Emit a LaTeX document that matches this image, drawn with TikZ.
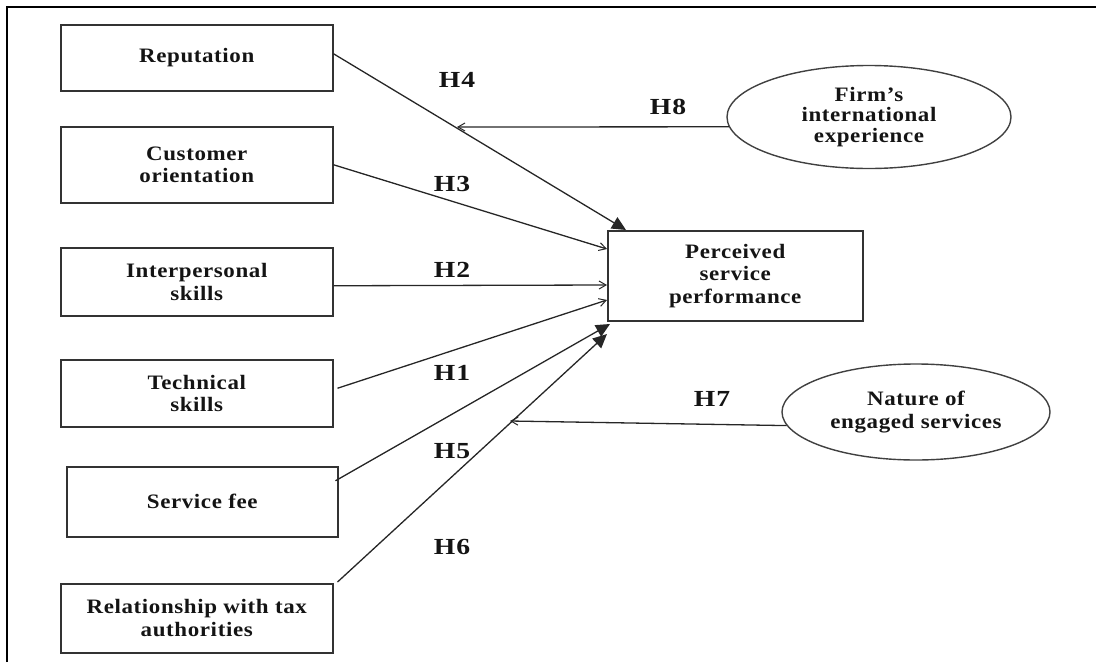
\documentclass[tikz,border=0pt]{standalone}
\usepackage{fontspec}
\setmainfont{Liberation Serif}
\newfontfamily\boxfont{Liberation Serif}[FakeStretch=1.12,LetterSpace=3]
\newfontfamily\hfont{Liberation Serif}[FakeStretch=1.2,LetterSpace=5]
\usetikzlibrary{arrows.meta,shapes.geometric,calc}
\begin{document}
\begin{tikzpicture}[x=1pt,y=-1pt,
  boxtext/.style={font=\boxfont\bfseries\fontsize{20.5}{22.5}\selectfont, text=black!92, align=center},
  box/.style={boxtext, draw=black!80, line width=1.5pt, anchor=north west, inner sep=0pt, minimum width=272pt},
  oval/.style={boxtext, ellipse, draw=black!75, line width=1.4pt, inner sep=0pt},
  hlabel/.style={font=\hfont\bfseries\fontsize{23}{25}\selectfont, text=black!92},
  openarrow/.style={draw=black!85, line width=1.3pt, -{Straight Barb[length=7pt,width=8pt,line width=1pt]}},
  fillarrow/.style={draw=black!85, line width=1.3pt, -{Triangle[length=14pt,width=13pt]}}]
\useasboundingbox (0,0) rectangle (1096,662);
% frame
\draw[line width=2.6pt] (7,662) -- (7,7) -- (1096,7);
% boxes
\node[box, minimum height=66pt] (rep) at (60,24) {Reputation};
\node[box, minimum height=76pt] (cust) at (60,126) {Customer\\orientation};
\node[box, minimum height=68pt] (inter) at (60,247) {Interpersonal\\skills};
\node[box, minimum height=67pt] (tech) at (60,359) {Technical\\skills};
\node[box, minimum height=70pt, minimum width=271pt] (fee) at (66,466) {Service fee};
\node[box, minimum height=69pt] (rel) at (60,583) {Relationship with tax\\authorities};
\node[box, minimum height=90pt, minimum width=255pt] (perc) at (607,230) {Perceived\\service\\performance};
\node[oval, minimum width=284pt, minimum height=103pt, font=\boxfont\bfseries\fontsize{20.5}{20.5}\selectfont] (firm) at (869,117) {Firm’s\\international\\experience};
\node[oval, minimum width=268pt, minimum height=96pt] (nature) at (916,412) {Nature of\\engaged services};
% arrow ends
\coordinate (prep) at (626,230);
\coordinate (pcust) at (607,249);
\coordinate (pint) at (607,285);
\coordinate (ptech) at (607,300);
\coordinate (pfee) at (610,324);
\coordinate (prel) at (607,334);
\coordinate (h8end) at (457,127);
\coordinate (h7end) at (510,421);
% connectors
\draw[fillarrow] ($(rep.east)+(0,-4)$) -- (prep);
\draw[openarrow] (cust.east) -- (pcust);
\draw[openarrow] ($(inter.east)+(0,4)$) -- (pint);
\draw[openarrow] ($(tech.east)+(4,-5)$) -- (ptech);
\draw[fillarrow] ($(fee.east)+(-3,-21)$) -- (pfee);
\draw[fillarrow] ($(rel.north east)+(4,-1)$) -- (prel);
\draw[openarrow] (firm.184) -- (h8end);
\draw[openarrow] (nature.186) -- (h7end);
% labels
\node[hlabel] (h4) at (457,80) {H4};
\node[hlabel] (h3) at (452,184) {H3};
\node[hlabel] (h2) at (452,270) {H2};
\node[hlabel] (h1) at (452,373) {H1};
\node[hlabel] (h5) at (452,451) {H5};
\node[hlabel] (h6) at (452,547) {H6};
\node[hlabel] (h8) at (668,107) {H8};
\node[hlabel] (h7) at (712,399) {H7};
\end{tikzpicture}
\end{document}
